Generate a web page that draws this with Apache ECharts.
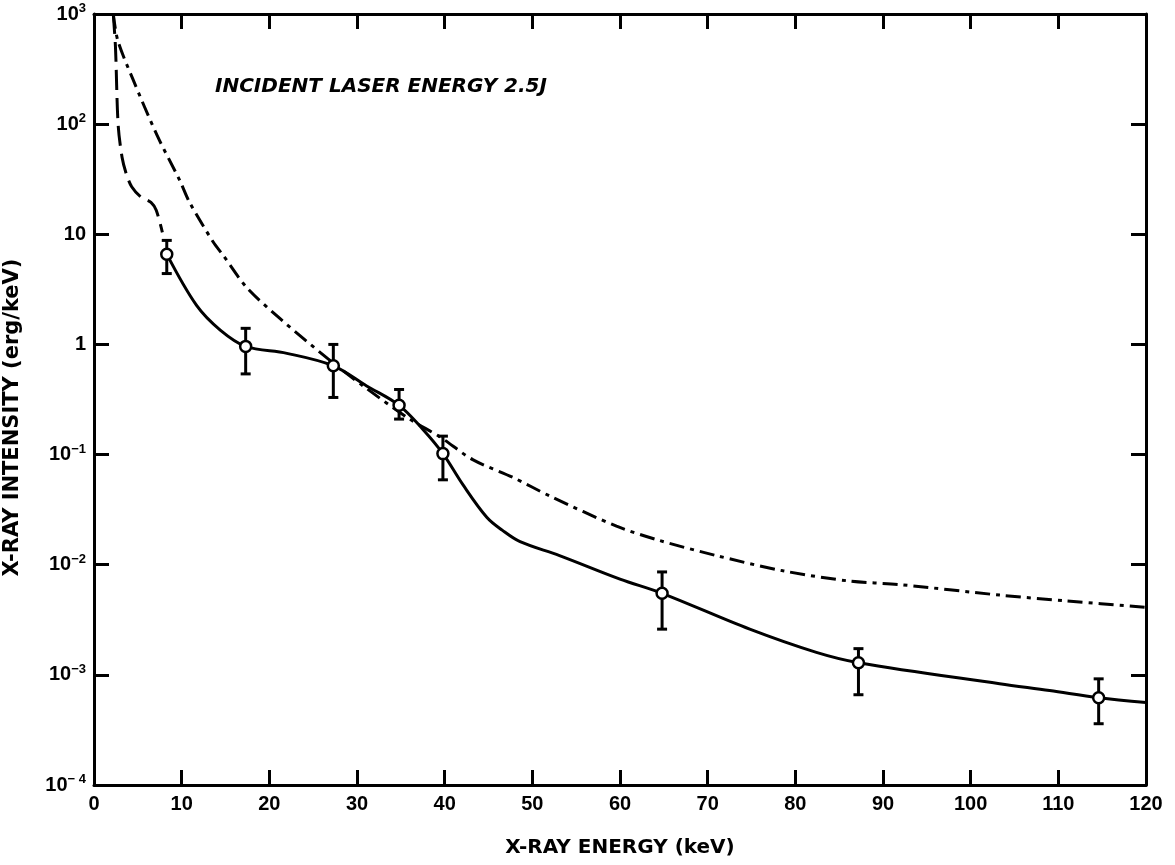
<!DOCTYPE html>
<html>
<head>
<meta charset="utf-8">
<script src="https://cdn.jsdelivr.net/npm/echarts@6/dist/echarts.min.js"></script>
<style>
  html, body { margin: 0; padding: 0; background: #fff; }
  #main { width: 1175px; height: 865px; }
</style>
</head>
<body>
<div id="main"></div>
<script>
  // measured points with error bars
  const ptE = [8.3, 17.3, 27.3, 34.8, 39.8, 64.8, 87.2, 114.6];
  const ptI = [6.6, 0.96, 0.64, 0.28, 0.102, 0.0055, 0.00129, 0.00062];
  const errLo = [4.4, 0.54, 0.33, 0.21, 0.059, 0.0026, 0.00066, 0.00036];
  const errHi = [8.8, 1.4, 1.0, 0.39, 0.147, 0.0086, 0.00173, 0.00092];

  // solid fitted curve
  const solidE = [8.3, 11.7, 14.4, 17.3, 22.0, 27.3, 31.1, 34.8, 37.5, 39.8, 42.1, 44.8, 46.6, 48.6, 53.1, 60, 64.8, 74.8, 82.4, 87.2, 103.3, 109, 114.6, 120];
  const solidI = [6.6, 2.26, 1.35, 0.96, 0.83, 0.64, 0.42, 0.28, 0.17, 0.102, 0.053, 0.027, 0.0205, 0.0162, 0.0121, 0.0074, 0.0055, 0.0026, 0.0016, 0.00129, 0.00083, 0.00072, 0.00062, 0.00056];

  // long-dash curve (low energy)
  const dashE = [2.2, 2.45, 2.75, 3.2, 3.7, 4.3, 5.3, 6.5, 7.1, 7.8];
  const dashI = [1000, 500, 100, 50, 35, 27, 22, 19.5, 16.5, 10.4];

  // dash-dot curve
  const dotE = [2.2, 2.7, 4.4, 7.2, 9.8, 10.9, 13.6, 14.7, 17.4, 21.2, 26.7, 30.7, 36.0, 39.5, 43.2, 47.8, 52.0, 59.6, 64.5, 71.0, 78.6, 86.2, 91.9, 103.3, 110.9, 120];
  const dotI = [1000, 580, 260, 79, 30.6, 19.5, 8.5, 6.5, 3.3, 1.72, 0.74, 0.42, 0.21, 0.144, 0.09, 0.062, 0.042, 0.0224, 0.0166, 0.0121, 0.0088, 0.0071, 0.0066, 0.0053, 0.0047, 0.0041];

  // y tick labels by exponent: [base, superscript]
  const yExp = [-4, -3, -2, -1, 0, 1, 2, 3];
  const yBase = ['10', '10', '10', '10', '1', '10', '10', '10'];
  const ySup = ['\u2212 4', '\u22123', '\u22122', '\u22121', '', '', '2', '3'];

  const zip = (a, b) => a.map((v, i) => [v, b[i]]);
  const font = '"Liberation Sans", Arial, sans-serif';
  const titleFont = '"DejaVu Sans", sans-serif';

  let chart = echarts.init(document.getElementById('main'));

  let axisLine = { show: true, onZero: false, lineStyle: { color: '#000', width: 3 } };
  let axisTick = { show: true, inside: true, length: 15, lineStyle: { color: '#000', width: 3 } };

  let yAxisBase = {
    type: 'log',
    logBase: 10,
    min: 1e-4,
    max: 1e3,
    interval: 1,
    splitNumber: 7,
    axisLine: axisLine,
    axisTick: axisTick,
    splitLine: { show: false },
    minorTick: { show: false }
  };

  let option = {
    animation: false,
    backgroundColor: '#fff',
    grid: { left: 94, right: 29, top: 14, bottom: 80, containLabel: false, outerBoundsMode: 'none' },
    xAxis: [{
      type: 'value',
      min: 0,
      max: 120,
      interval: 10,
      position: 'bottom',
      axisLine: axisLine,
      axisTick: axisTick,
      splitLine: { show: false },
      axisLabel: { color: '#000', fontFamily: font, fontWeight: 'bold', fontSize: 20, margin: 9 },
      name: 'X-RAY ENERGY (keV)',
      nameLocation: 'middle',
      nameGap: 53,
      nameTextStyle: { color: '#000', fontFamily: titleFont, fontWeight: 'bold', fontSize: 20 }
    }, {
      type: 'value',
      min: 0,
      max: 120,
      interval: 10,
      position: 'top',
      axisLine: axisLine,
      axisTick: axisTick,
      splitLine: { show: false },
      axisLabel: { show: false }
    }],
    yAxis: [Object.assign({}, yAxisBase, {
      position: 'left',
      axisLabel: {
        color: '#000',
        fontFamily: font,
        fontWeight: 'bold',
        fontSize: 20,
        margin: 8,
        formatter: function (v) {
          let i = yExp.indexOf(Math.round(Math.log10(v)));
          if (i < 0) return '';
          return '{b|' + yBase[i] + '}' + (ySup[i] ? '{s|' + ySup[i] + '}' : '');
        },
        rich: {
          b: { fontFamily: font, fontWeight: 'bold', fontSize: 20, color: '#000', lineHeight: 24 },
          s: { fontFamily: font, fontWeight: 'bold', fontSize: 13, color: '#000', verticalAlign: 'top', lineHeight: 13 }
        }
      },
      name: 'X-RAY INTENSITY (erg/keV)',
      nameLocation: 'middle',
      nameGap: 71,
      nameTextStyle: { color: '#000', fontFamily: titleFont, fontWeight: 'bold', fontSize: 21, padding: [0, 36, 0, 0] }
    }), Object.assign({}, yAxisBase, {
      position: 'right',
      axisLabel: { show: false }
    })],
    graphic: [{
      type: 'text',
      left: 215,
      top: 77,
      style: {
        text: 'INCIDENT LASER ENERGY 2.5J',
        fill: '#000',
        font: 'italic bold 20px ' + titleFont
      }
    }],
    series: [{
      type: 'line',
      data: zip(solidE, solidI),
      smooth: 0.35,
      showSymbol: false,
      lineStyle: { color: '#000', width: 3 },
      z: 2
    }, {
      type: 'line',
      data: zip(dashE, dashI),
      smooth: 0.3,
      showSymbol: false,
      lineStyle: { color: '#000', width: 3, type: [20, 8] },
      z: 2
    }, {
      type: 'line',
      data: zip(dotE, dotI),
      smooth: 0.3,
      showSymbol: false,
      lineStyle: { color: '#000', width: 3, type: [15, 6, 4, 6] },
      z: 2
    }, {
      type: 'custom',
      data: ptE.map((e, i) => [e, errLo[i], errHi[i]]),
      renderItem: function (params, api) {
        let lo = api.coord([api.value(0), api.value(1)]);
        let hi = api.coord([api.value(0), api.value(2)]);
        let w = 5;
        let st = { stroke: '#000', lineWidth: 3 };
        return {
          type: 'group',
          children: [
            { type: 'line', shape: { x1: lo[0], y1: lo[1], x2: hi[0], y2: hi[1] }, style: st },
            { type: 'line', shape: { x1: lo[0] - w, y1: lo[1], x2: lo[0] + w, y2: lo[1] }, style: st },
            { type: 'line', shape: { x1: hi[0] - w, y1: hi[1], x2: hi[0] + w, y2: hi[1] }, style: st }
          ]
        };
      },
      encode: { x: 0, y: [1, 2] },
      z: 3
    }, {
      type: 'scatter',
      data: zip(ptE, ptI),
      symbol: 'circle',
      symbolSize: 11,
      itemStyle: { color: '#fff', borderColor: '#000', borderWidth: 2.5, opacity: 1 },
      z: 4
    }]
  };
  chart.setOption(option);
</script>
</body>
</html>
